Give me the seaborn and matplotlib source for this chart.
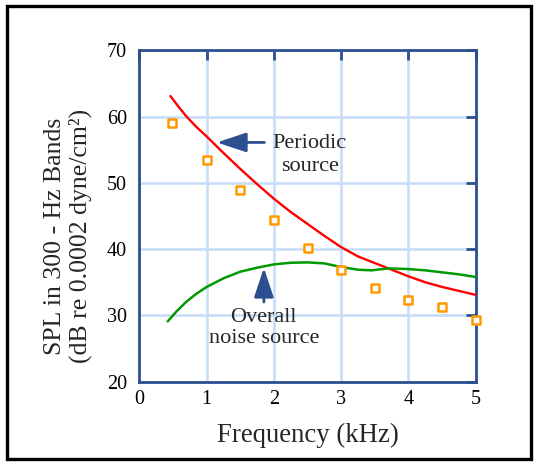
import numpy as np
import matplotlib
matplotlib.use('Agg')
import matplotlib.pyplot as plt
import pandas as pd
import seaborn as sns
from matplotlib.patches import Rectangle

# measured band levels (squares)
meas_khz = [0.48, 1.0, 1.5, 2.0, 2.5, 3.0, 3.5, 4.0, 4.5, 5.0]
meas_spl = [59.0, 53.4, 48.9, 44.4, 40.1, 36.8, 34.1, 32.4, 31.2, 29.3]

# periodic source curve (red)
periodic_khz = [0.46, 0.58, 0.7, 0.85, 1.0, 1.25, 1.5, 1.75, 2.0, 2.25, 2.5, 2.75, 3.0,
                3.25, 3.5, 3.7, 4.0, 4.25, 4.5, 4.75, 5.0]
periodic_spl = [63.1, 61.5, 60.0, 58.4, 57.0, 54.5, 52.1, 49.8, 47.6, 45.6, 43.8, 42.0, 40.3,
                38.9, 37.9, 37.1, 35.9, 35.0, 34.3, 33.7, 33.1]

# overall noise source curve (green)
overall_khz = [0.42, 0.55, 0.7, 0.85, 1.0, 1.25, 1.5, 1.75, 2.0, 2.25, 2.5, 2.75,
               3.0, 3.25, 3.45, 3.7, 4.0, 4.25, 4.5, 4.75, 5.0]
overall_spl = [29.1, 30.6, 32.1, 33.3, 34.3, 35.6, 36.6, 37.2, 37.7, 37.95, 38.0, 37.85,
               37.3, 36.9, 36.8, 37.1, 37.0, 36.8, 36.5, 36.2, 35.8]

x_ticks = [0, 1, 2, 3, 4, 5]
y_ticks = [20, 30, 40, 50, 60, 70]

navy = '#2c4f8f'

sns.set_theme(style='white')
plt.rcParams['font.family'] = ['Liberation Serif', 'DejaVu Serif']

fig = plt.figure(figsize=(5.35, 4.62), dpi=100)
ax = fig.add_axes([0.2607, 0.1738, 0.6284, 0.7173])

sns.lineplot(x=periodic_khz, y=periodic_spl, ax=ax, color='#ff0000', linewidth=1.7, sort=False, zorder=3)
sns.lineplot(x=overall_khz, y=overall_spl, ax=ax, color='#009a00', linewidth=1.8, sort=False, zorder=3)
sns.scatterplot(x=meas_khz, y=meas_spl, ax=ax, marker='s', s=38, facecolor='white',
                edgecolor='#ff9900', linewidth=1.8, zorder=4, clip_on=False)

ax.set_xlim(0, 5)
ax.set_ylim(20, 70)
ax.set_xticks(x_ticks)
ax.set_yticks(y_ticks)
ax.grid(True, color='#c8ddf8', linewidth=1.9, zorder=0)
ax.set_axisbelow(True)
for s in ax.spines.values():
    s.set_color(navy)
    s.set_linewidth(2.0)
ax.tick_params(direction='in', length=7.5, width=2.0, color=navy, top=True, right=True,
               labelsize=14.5, labelcolor='black')
ax.tick_params(axis='y', pad=9)
ax.tick_params(axis='x', pad=6)

ax.set_xlabel('Frequency (kHz)', fontsize=19.3, labelpad=10)
ax.set_ylabel('SPL in 300 - Hz Bands\n(dB re 0.0002 dyne/cm²)', fontsize=18.5, linespacing=1.15)
ax.yaxis.set_label_coords(-0.142, 0.44)

# annotations
ax.annotate('', xy=(1.11, 56.1), xytext=(1.9, 56.1),
            arrowprops=dict(arrowstyle='-|>,head_length=1.5,head_width=0.5', color=navy, lw=2))
ax.text(2.53, 54.2, 'Periodic\nsource', ha='center', va='center', fontsize=16, linespacing=1.25)
ax.annotate('', xy=(1.85, 37.6), xytext=(1.85, 31.6),
            arrowprops=dict(arrowstyle='-|>,head_length=1.5,head_width=0.5', color=navy, lw=2))
ax.text(1.85, 28.1, 'Overall\nnoise source', ha='center', va='center', fontsize=16, linespacing=1.2)

fig.patches.append(Rectangle((0.013, 0.007), 0.979, 0.979, transform=fig.transFigure,
                             fill=False, edgecolor='black', linewidth=2.4))

fig.savefig('out.png', dpi=100)
